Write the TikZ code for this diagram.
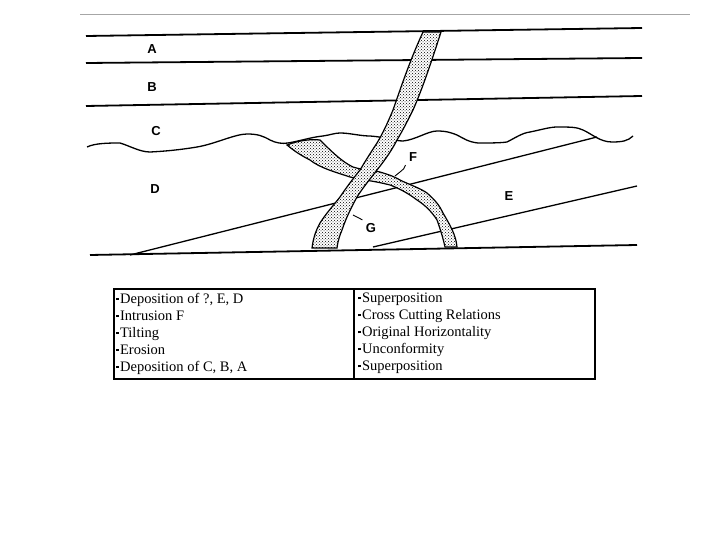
\documentclass[tikz,border=0pt]{standalone}
\usepackage{fontspec}
\setmainfont{Liberation Serif}
\newfontfamily\lblfont{Liberation Sans}
\usetikzlibrary{patterns}
\newcommand{\sqb}{\raisebox{3.5pt}{\rule{2.4pt}{2.4pt}}\hspace{1.5pt}}
\begin{document}
\begin{tikzpicture}[x=1pt,y=-1pt,
  bed/.style={line width=1.8pt},
  dike/.style={line width=1.2pt,fill=white,postaction={pattern=crosshatch dots}},
  lbl/.style={font=\lblfont\bfseries\fontsize{13}{13}\selectfont},
  txt/.style={font=\fontsize{14.5}{17}\selectfont,align=left,anchor=north west,inner sep=0pt}]
\useasboundingbox (0,0) rectangle (720,540);
\draw[gray!70,line width=0.8pt] (80,14) -- (690,14);
% beds
\draw[bed] (86,36) -- (642,28);
\draw[bed] (86,63) -- (642,58);
\draw[bed] (86,106) -- (642,96);
\draw[bed] (90,255) -- (637,245);
\draw[line width=1.3pt] (87,147) .. controls (95,143) and (110,143) .. (120,143)
  .. controls (130,146) and (140,152) .. (150,152)
  .. controls (170,151) and (185,149) .. (197,147)
  .. controls (215,144) and (235,134) .. (247,134)
  .. controls (258,134) and (263,136) .. (270,140)
  .. controls (276,143) and (282,144) .. (288,143)
  .. controls (300,141) and (312,137) .. (323,136)
  .. controls (330,135) and (335,133) .. (340,133)
  .. controls (350,133) and (360,136) .. (370,136)
  .. controls (385,137) and (395,141) .. (403,141)
  .. controls (415,140) and (428,131) .. (437,131)
  .. controls (447,131) and (452,133) .. (457,135)
  .. controls (463,138) and (468,142) .. (478,143)
  .. controls (490,143) and (500,143) .. (507,142)
  .. controls (515,138) and (522,133) .. (530,132)
  .. controls (540,130) and (550,127) .. (557,127)
  .. controls (570,127) and (577,127) .. (583,130)
  .. controls (592,134) and (600,142) .. (612,142)
  .. controls (622,142) and (628,141) .. (633,136);
\draw[line width=1.3pt] (130,255) -- (597,137);
\draw[line width=1.3pt] (373,247) -- (637,186);
% dike F
\draw[dike] (287,145) .. controls (300,140) and (312,139) .. (320,140)
  .. controls (330,150) and (342,162) .. (353,167)
  .. controls (362,170) and (372,170) .. (380,172)
  .. controls (390,175) and (395,177) .. (400,180)
  .. controls (410,185) and (420,188) .. (427,193)
  .. controls (435,200) and (440,206) .. (443,213)
  .. controls (450,225) and (456,235) .. (457,247)
  -- (445,247)
  .. controls (443,238) and (440,228) .. (437,220)
  .. controls (432,212) and (425,205) .. (417,200)
  .. controls (408,193) and (398,188) .. (390,185)
  .. controls (375,181) and (362,180) .. (350,177)
  .. controls (335,172) and (320,168) .. (310,160)
  .. controls (300,155) and (293,150) .. (287,145) -- cycle;
% dike G
\draw[dike] (423,32) .. controls (410,60) and (400,90) .. (393,110)
  .. controls (388,122) and (383,133) .. (377,143)
  .. controls (371,152) and (366,160) .. (360,170)
  .. controls (352,180) and (346,188) .. (340,197)
  .. controls (332,207) and (325,215) .. (320,223)
  .. controls (315,232) and (313,240) .. (312,248)
  -- (337,248)
  .. controls (338,240) and (340,235) .. (342,230)
  .. controls (346,218) and (352,206) .. (357,197)
  .. controls (364,186) and (371,178) .. (377,170)
  .. controls (385,160) and (392,150) .. (397,140)
  .. controls (403,130) and (408,120) .. (413,110)
  .. controls (422,90) and (432,60) .. (441,32) -- cycle;
% labels
\node[lbl] (A) at (152,49) {A};
\node[lbl] (B) at (152,87) {B};
\node[lbl] (C) at (156,131) {C};
\node[lbl] (D) at (155,189) {D};
\node[lbl] (E) at (509,196) {E};
\node[lbl] (F) at (413,157) {F};
\node[lbl] (G) at (371,228) {G};
\coordinate (fp) at (395,176);
\coordinate (gp) at (353,215);
\draw[line width=0.9pt] (F.south west) .. controls (405,168) .. (fp);
\draw[line width=0.9pt] (G.north west) -- (gp);
% table
\draw[line width=1.8pt] (114,289) rectangle (595,379);
\draw[line width=1.8pt] (354,289) -- (354,379);
\node[txt] (L) at (116,293) {\sqb Deposition of ?, E, D\\
\sqb Intrusion F\\
\sqb Tilting\\
\sqb Erosion\\
\sqb Deposition of C, B, A};
\node[txt] (R) at (358,293) {\sqb Superposition\\
\sqb Cross Cutting Relations\\
\sqb Original Horizontality\\
\sqb Unconformity\\
\sqb Superposition};
\end{tikzpicture}
\end{document}
